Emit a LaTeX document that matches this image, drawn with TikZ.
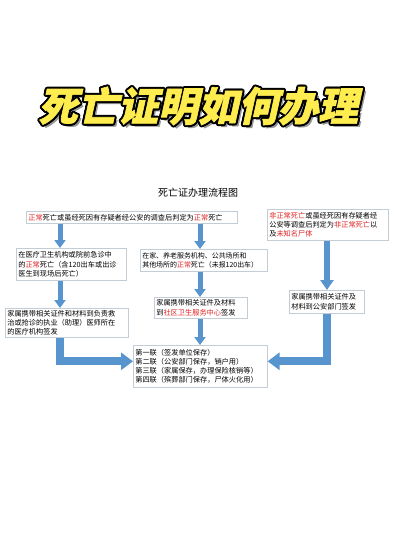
\documentclass[tikz,border=0pt]{standalone}
\usepackage{fontspec}
\usetikzlibrary{arrows.meta}
\newfontfamily\cjk{Noto Sans CJK SC}
\newfontfamily\titlefont[FakeSlant=0.22,FakeBold=1.5]{Noto Sans CJK SC}
\definecolor{arrowblue}{RGB}{88,148,206}
\definecolor{boxline}{RGB}{196,204,214}
\definecolor{redtxt}{RGB}{226,36,36}
\definecolor{titleyellow}{RGB}{255,236,78}
\definecolor{shadowgray}{RGB}{150,150,150}
\newcommand{\redt}[1]{\textcolor{redtxt}{#1}}
\newcommand{\titletext}{死亡证明如何办理}
\begin{document}
\begin{tikzpicture}[x=1pt,y=-1pt,
  box/.style={draw=boxline, line width=0.6pt, fill=white, inner sep=1.5pt,
    anchor=north west, align=left, font=\cjk\fontsize{7.2}{9.2}\selectfont},
  tfont/.style={font=\titlefont\bfseries\fontsize{40}{42}\selectfont, inner sep=0pt},
  arr/.style={draw=arrowblue, line width=5pt,
    -{Triangle[width=11pt,length=8pt]}},
  arrwide/.style={draw=arrowblue, line width=6.5pt,
    -{Triangle[width=13pt,length=10pt]}},
  arrL/.style={draw=arrowblue, line width=8pt, line join=miter,
    -{Triangle[width=17pt,length=12pt]}}]
\useasboundingbox[fill=white] (0,0) rectangle (400,533);

% title with shadow and outline
\node[tfont, text=shadowgray] (tshadow) at (201,109) {\titletext};
\foreach \a in {0,30,...,330}{
  \node[tfont, text=black] (tout\a) at ({198+2*cos(\a)},{106+2*sin(\a)}) {\titletext};
}
\node[tfont, text=titleyellow] (title) at (198,106) {\titletext};

% subtitle
\node[font=\cjk\fontsize{10}{12}\selectfont, inner sep=0pt] (sub) at (198,193) {死亡证办理流程图};

% boxes
\node[box, minimum width=211pt, minimum height=12pt, text width=207pt] (top) at (26,211)
  {\redt{正常}死亡或虽经死因有存疑者经公安的调查后判定为\redt{正常}死亡};
\node[box, minimum width=121pt, minimum height=31pt, text width=117pt] (rtop) at (267,209)
  {\redt{非正常死亡}或虽经死因有存疑者经\\公安等调查后判定为\redt{非正常死亡}以\\及\redt{未知名尸体}};
\node[box, minimum width=110pt, minimum height=32pt, text width=106pt] (lm) at (16,248)
  {在医疗卫生机构或院前急诊中\\的\redt{正常}死亡（含120出车或出诊\\医生到现场后死亡）};
\node[box, minimum width=127pt, minimum height=22pt, text width=123pt,
  font=\cjk\fontsize{6.95}{9.2}\selectfont] (cm) at (140,249)
  {在家、养老服务机构、公共场所和\\其他场所的\redt{正常}死亡（未报120出车）};
\node[box, minimum width=93pt, minimum height=21pt, text width=89pt] (cl) at (154,297)
  {家属携带相关证件及材料\\到\redt{社区卫生服务中心}签发};
\node[box, minimum width=75pt, minimum height=23pt, text width=71pt] (rl) at (289,290)
  {家属携带相关证件及\\材料到公安部门签发};
\node[box, minimum width=123pt, minimum height=29pt, text width=119pt] (ll) at (5,308)
  {家属携带相关证件和材料到负责救\\治或抢诊的执业（助理）医师所在\\的医疗机构签发};
\node[box, minimum width=134pt, minimum height=42pt, text width=130pt] (bot) at (133,345)
  {第一联（签发单位保存）\\第二联（公安部门保存，销户用）\\第三联（家属保存，办理保险核销等）\\第四联（殡葬部门保存，尸体火化用）};

% x positions of arrows
\coordinate (xl) at (60,0);
\coordinate (xc) at (200,0);
\coordinate (xr) at (327,0);
\coordinate (jl) at ([yshift=5pt]bot.west);
\coordinate (jr) at ([yshift=5pt]bot.east);

% connectors
\draw[arr] (top.south -| xl) -- (lm.north -| xl);
\draw[arr] (top.south -| xc) -- (cm.north -| xc);
\draw[arr] (lm.south -| xl) -- (ll.north -| xl);
\draw[arr] (cm.south -| xc) -- (cl.north -| xc);
\draw[arr] (cl.south -| xc) -- (bot.north -| xc);
\draw[arrwide] (rtop.south -| xr) -- (rl.north -| xr);
\draw[arrL] (ll.south -| xl) |- (jl);
\draw[arrL] (rl.south -| xr) |- (jr);
\end{tikzpicture}
\end{document}
